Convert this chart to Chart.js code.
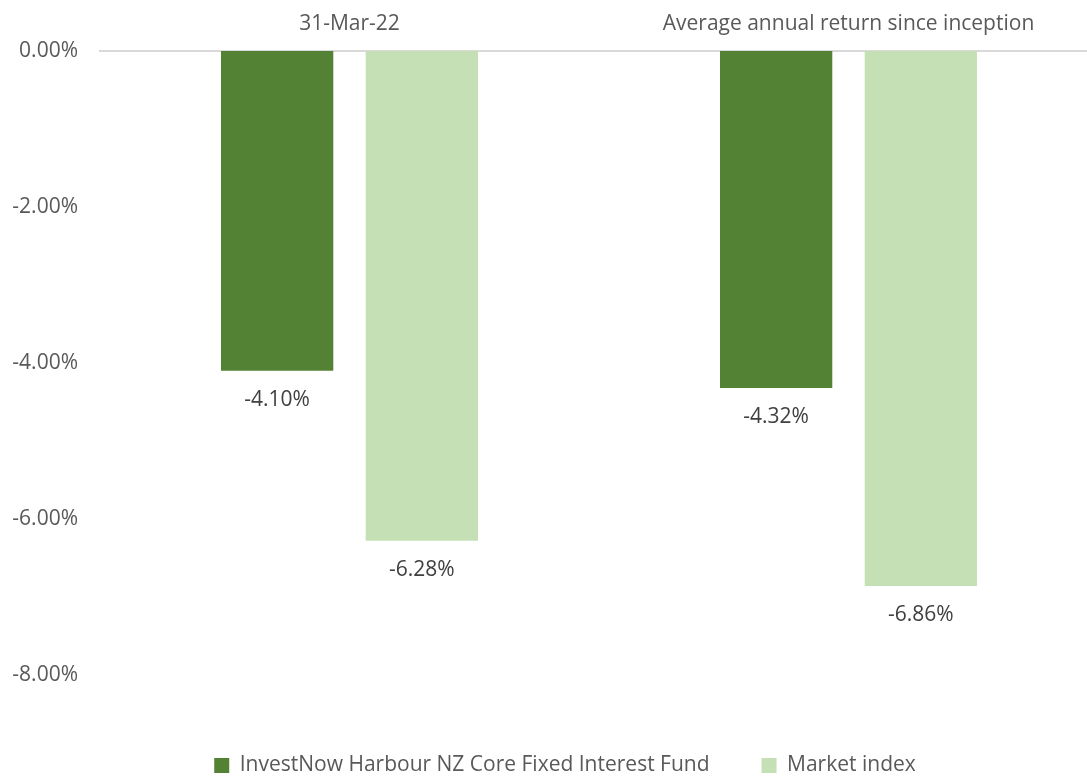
<!DOCTYPE html>
<html>
<head>
<meta charset="utf-8">
<script src="https://cdn.jsdelivr.net/npm/chart.js@4"></script>
<style>
html,body{margin:0;padding:0;background:#fff;overflow:hidden;}
#wrap{width:1098px;height:776px;position:relative;}
</style>
</head>
<body>
<div id="wrap"><canvas id="c"></canvas></div>
<script>
const categories = ["31-Mar-22", "Average annual return since inception"];
const seriesNames = ["InvestNow Harbour NZ Core Fixed Interest Fund", "Market index"];
const fundValues = [-4.10, -4.32];
const indexValues = [-6.28, -6.86];
const yTicks = [0, -2, -4, -6, -8];

const FONT = "'Open Sans', sans-serif";

const labelPlugin = {
  id: 'barLabels',
  afterLayout(chart) {
    if (chart.legend) {
      chart.legend.top += 10; chart.legend.bottom += 10;
      chart.legend.left += 16; chart.legend.right += 16;
    }
  },
  afterDatasetsDraw(chart) {
    const ctx = chart.ctx;
    ctx.save();
    ctx.font = "21px " + FONT;
    ctx.fillStyle = '#404040';
    ctx.textAlign = 'center';
    ctx.textBaseline = 'middle';
    chart.data.datasets.forEach((ds, i) => {
      const meta = chart.getDatasetMeta(i);
      meta.data.forEach((bar, j) => {
        const v = ds.data[j];
        ctx.fillText(v.toFixed(2) + '%', bar.x, bar.y + 29);
      });
    });
    ctx.restore();
  }
};

new Chart(document.getElementById('c'), {
  type: 'bar',
  data: {
    labels: categories,
    datasets: [
      { label: seriesNames[0], data: fundValues, backgroundColor: '#548235', borderWidth: 0 },
      { label: seriesNames[1], data: indexValues, backgroundColor: '#C5E0B4', borderWidth: 0 }
    ]
  },
  options: {
    responsive: true,
    maintainAspectRatio: false,
    animation: false,
    layout: { padding: { left: 0, right: 0, top: 0, bottom: 0 } },
    categoryPercentage: 0.58,
    barPercentage: 0.776,
    scales: {
      x: {
        position: 'top',
        grid: { display: false, drawTicks: false },
        border: { display: true, color: '#d9d9d9', width: 2 },
        ticks: { color: '#595959', font: { family: FONT, size: 21 }, padding: 14, maxRotation: 0 },
        afterFit(axis) { axis.height = 51; }
      },
      y: {
        min: -8, max: 0,
        afterBuildTicks(axis) { axis.ticks = yTicks.map(v => ({ value: v })); },
        grid: { display: false, drawTicks: false },
        border: { display: false },
        ticks: {
          color: '#595959', font: { family: FONT, size: 21 }, padding: 22,
          callback: v => (Math.abs(v) < 1e-9 ? 0 : v).toFixed(2) + '%'
        },
        afterFit(axis) { axis.width = 100; }
      }
    },
    plugins: {
      legend: {
        position: 'bottom',
        title: { display: true, text: ' ', font: { size: 10 }, padding: { top: 0, bottom: 6 } },
        labels: { color: '#595959', font: { family: FONT, size: 21 }, boxWidth: 15, boxHeight: 15, padding: 52 }
      },
      tooltip: { enabled: false }
    }
  },
  plugins: [labelPlugin]
});
</script>
</body>
</html>
